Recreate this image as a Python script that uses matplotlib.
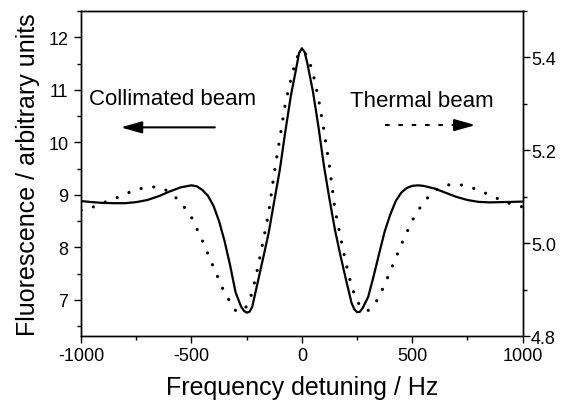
import numpy as np
import matplotlib
matplotlib.use("Agg")
import matplotlib.pyplot as plt
from matplotlib.ticker import MultipleLocator, FormatStrFormatter

plt.rcParams['font.family'] = ['Liberation Sans', 'DejaVu Sans']
plt.rcParams['axes.unicode_minus'] = False

# collimated beam (solid, left axis)
freq_coll = [-1000, -950, -900, -850, -800, -750, -700, -650, -600, -550, -500, -475,
             -450, -425, -400, -375, -350, -325, -300, -275, -262.5, -250, -237.5, -225,
             -200, -175, -150, -125, -100, -75, -50, -25, -12.5, 0, 12.5, 25, 50, 75, 100,
             125, 150, 175, 200, 225, 237.5, 250, 262.5, 275, 300, 325, 350, 375, 400, 425,
             450, 475, 500, 525, 550, 600, 650, 700, 750, 800, 850, 900, 950, 1000]
fluor_coll = [8.88, 8.86, 8.845, 8.84, 8.84, 8.86, 8.90, 8.97, 9.06, 9.14, 9.18, 9.16,
              9.09, 8.98, 8.79, 8.50, 8.12, 7.66, 7.14, 6.87, 6.79, 6.755, 6.77, 6.86,
              7.33, 7.80, 8.28, 8.88, 9.47, 10.2, 10.88, 11.42, 11.70, 11.79, 11.72, 11.50,
              10.97, 10.30, 9.55, 8.92, 8.33, 7.84, 7.38, 6.94, 6.82, 6.765, 6.77, 6.84,
              7.05, 7.45, 7.88, 8.30, 8.62, 8.88, 9.04, 9.13, 9.17, 9.18, 9.17, 9.12, 9.04,
              8.96, 8.90, 8.865, 8.855, 8.86, 8.865, 8.87]

# thermal beam (dotted, right axis)
freq_therm = [-1000, -950, -900, -850, -800, -750, -700, -650, -600, -550, -500, -450,
              -400, -350, -300, -275, -250, -225, -200, -175, -150, -125, -100, -75, -50,
              -25, 0, 25, 50, 75, 100, 125, 150, 175, 200, 225, 250, 275, 300, 325, 350,
              400, 450, 500, 550, 600, 650, 700, 750, 800, 850, 900, 950, 1000]
fluor_therm = [5.071, 5.077, 5.087, 5.095, 5.106, 5.115, 5.121, 5.121, 5.111, 5.089, 5.056,
               5.005, 4.948, 4.893, 4.855, 4.852, 4.864, 4.893, 4.946, 5.005, 5.066, 5.152,
               5.225, 5.30, 5.352, 5.398, 5.415, 5.404, 5.367, 5.312, 5.243, 5.166, 5.072,
               5.013, 4.956, 4.907, 4.875, 4.858, 4.855, 4.866, 4.884, 4.939, 4.997, 5.049,
               5.088, 5.113, 5.125, 5.127, 5.123, 5.114, 5.104, 5.093, 5.084, 5.078]

fig = plt.figure(figsize=(5.64, 4.10), dpi=100)
ax = fig.add_axes([0.1436, 0.178, 0.7832, 0.7927])
ax2 = ax.twinx()

ax.plot(freq_coll, fluor_coll, color='k', lw=1.6, solid_joinstyle='round')
ax2.plot(freq_therm, fluor_therm, color='k', lw=2.3, linestyle=(0, (0.01, 4.0)),
         dash_capstyle='round')

ax.set_xlim(-1000, 1000)
ax.set_ylim(6.31, 12.5)
ax2.set_ylim(4.8, 5.5)

ax.xaxis.set_major_locator(MultipleLocator(500))
ax.xaxis.set_minor_locator(MultipleLocator(250))
ax.yaxis.set_major_locator(MultipleLocator(1))
ax.yaxis.set_minor_locator(MultipleLocator(0.5))
ax2.yaxis.set_major_locator(MultipleLocator(0.2))
ax2.yaxis.set_minor_locator(MultipleLocator(0.1))
ax2.yaxis.set_major_formatter(FormatStrFormatter('%.1f'))

for a in (ax, ax2):
    for s in a.spines.values():
        s.set_linewidth(1.0)
    a.tick_params(which='major', length=5, width=1.0, labelsize=13, direction='out')
    a.tick_params(which='minor', length=3, width=1.0, direction='out')
ax.tick_params(axis='x', which='both', top=False, pad=3)
ax.tick_params(axis='y', which='both', right=False, pad=4)
ax2.tick_params(axis='y', which='both', left=False, pad=1)

ax.set_xlabel('Frequency detuning / Hz', fontsize=18, labelpad=8)
ax.set_ylabel('Fluorescence / arbitrary units', fontsize=18, labelpad=6)

# annotations
ax.text(0.019, 0.714, 'Collimated beam', transform=ax.transAxes, fontsize=16, va='baseline')
ax.annotate('', xy=(0.09, 0.642), xytext=(0.303, 0.642),
            xycoords='axes fraction', textcoords='axes fraction',
            arrowprops=dict(arrowstyle='-|>,head_length=1.27,head_width=0.36',
                            color='k', lw=1.5, shrinkA=0, shrinkB=0))

ax.text(0.61, 0.707, 'Thermal beam', transform=ax.transAxes, fontsize=16, va='baseline')
ax.plot([0.689, 0.855], [0.649, 0.649], transform=ax.transAxes, color='k', lw=1.5,
        linestyle=(0, (2.2, 4.2)))
ax.annotate('', xy=(0.893, 0.649), xytext=(0.85, 0.649),
            xycoords='axes fraction', textcoords='axes fraction',
            arrowprops=dict(arrowstyle='-|>,head_length=1.27,head_width=0.36',
                            color='k', lw=1.5, shrinkA=0, shrinkB=0))

fig.savefig('out.png', dpi=100, facecolor='white')
